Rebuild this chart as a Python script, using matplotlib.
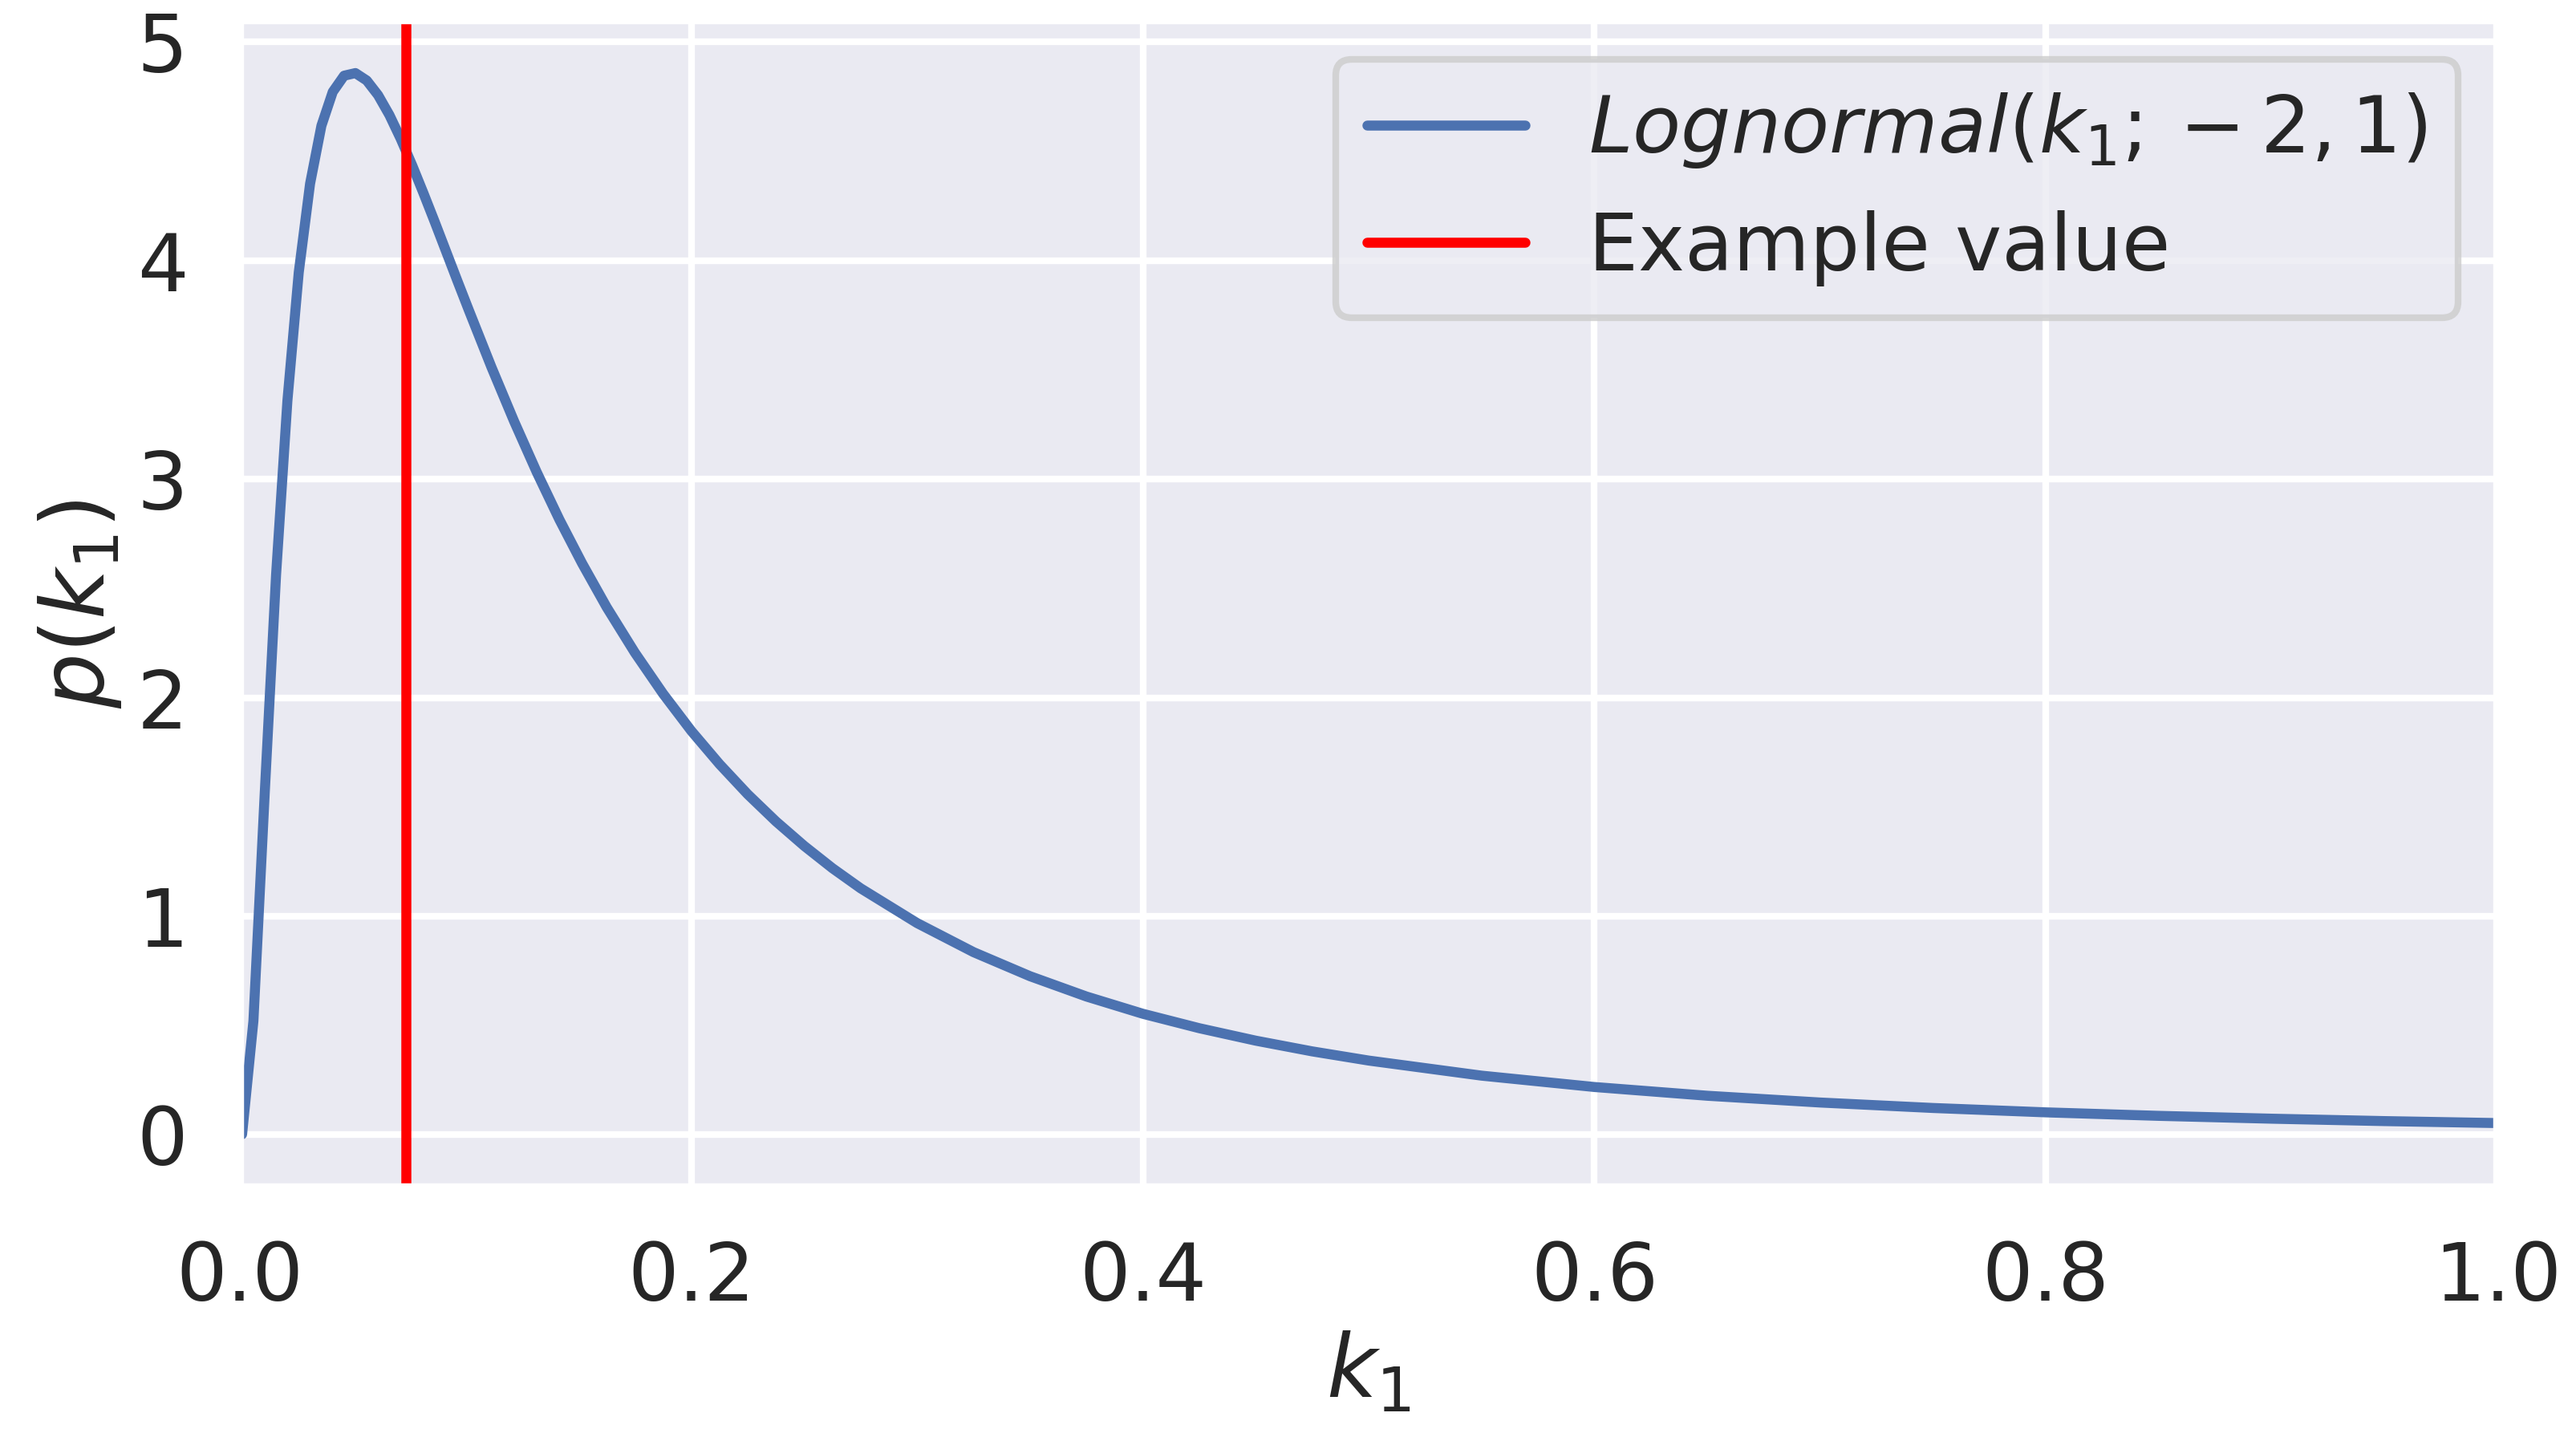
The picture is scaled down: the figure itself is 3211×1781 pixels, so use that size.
import numpy as np
import matplotlib
matplotlib.use("Agg")
import matplotlib.pyplot as plt
import seaborn as sns

# values
k1 = [0.001, 0.00602, 0.01104, 0.01606, 0.02108, 0.0261, 0.03112, 0.03614,
      0.04116, 0.04618, 0.0512, 0.05622, 0.06124, 0.06626, 0.07128, 0.0763,
      0.08132, 0.08634, 0.09136, 0.09638, 0.1014, 0.11144, 0.12148, 0.13152,
      0.14156, 0.1516, 0.1625, 0.175, 0.1875, 0.2, 0.2125, 0.225, 0.2375,
      0.25, 0.2625, 0.275, 0.3, 0.325, 0.35, 0.375, 0.4, 0.425, 0.45, 0.475,
      0.5, 0.55, 0.6, 0.65, 0.7, 0.75, 0.8, 0.85, 0.9, 0.95, 1.0]
density = [0.002, 0.521, 1.565, 2.563, 3.359, 3.946, 4.352, 4.617,
           4.772, 4.846, 4.858, 4.824, 4.757, 4.666, 4.557, 4.437,
           4.309, 4.177, 4.042, 3.907, 3.774, 3.513, 3.265, 3.032,
           2.815, 2.615, 2.414, 2.206, 2.018, 1.848, 1.696, 1.558, 1.434,
           1.322, 1.220, 1.128, 0.969, 0.836, 0.726, 0.633, 0.554, 0.488, 0.431, 0.382,
           0.340, 0.271, 0.219, 0.179, 0.148, 0.123, 0.103, 0.087, 0.074, 0.063, 0.054]
example_value = 0.0735

sns.set_theme(context="poster", style="darkgrid")

fig = plt.figure(figsize=(3211 / 300, 1781 / 300), dpi=300)
ax = fig.add_axes([0.0931, 0.1690, 0.9695 - 0.0931, 0.986 - 0.1690])

ax.plot(k1, density, color="#4c72b0", lw=3, label=r"$Lognormal(k_1; -2, 1)$")
ax.axvline(example_value, color="red", lw=3, label="Example value")

ax.set_xlim(0, 1)
ax.set_xlabel(r"$k_1$", fontsize=26)
ax.set_ylabel(r"$p(k_1)$", fontsize=26)
ax.tick_params(labelsize=24)
ax.legend(fontsize=23.6, loc="upper right")

fig.savefig("out.png", dpi=300)
